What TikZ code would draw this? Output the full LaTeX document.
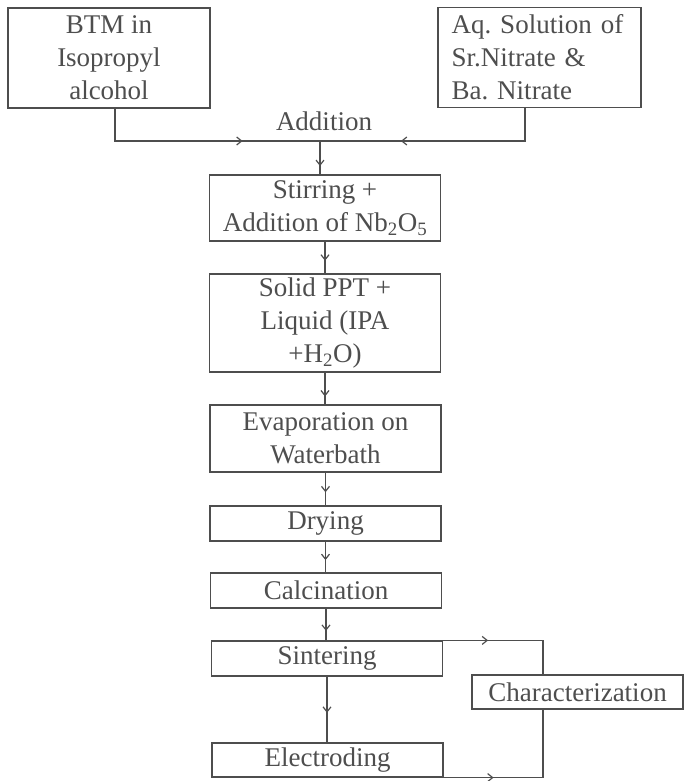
\documentclass[tikz,border=0pt]{standalone}
\usepackage{fontspec}
\setmainfont{Liberation Serif}
\usetikzlibrary{arrows.meta,decorations.markings}
\definecolor{ink}{RGB}{78,78,78}
\frenchspacing
\begin{document}
\begin{tikzpicture}[x=1pt,y=-1pt,
  every node/.style={font=\fontsize{27}{33}\selectfont, text=ink},
  box/.style={draw=ink, line width=1.2pt, inner sep=0pt, minimum width=231pt, align=center},
  conn/.style={draw=ink, line width=1.2pt},
  midtip/.style={postaction={decorate}, decoration={markings,
      mark=at position #1 with {\arrow{Straight Barb[length=5pt,width=8pt,line width=1.2pt]}}}},
]
\useasboundingbox[fill=white] (0,0) rectangle (685,781);

% starting materials
\node[box, minimum width=202pt, minimum height=100pt] (btm) at (109,58) {BTM in\\Isopropyl\\alcohol};
\node[box, minimum width=0pt, text width=180pt, inner xsep=11.5pt, align=left, minimum height=100pt]
  (aq) at (539.5,57.5) {\hspace*{2pt}Aq. Solution of\\\hspace*{2pt}Sr.Nitrate \&\\\hspace*{2pt}Ba. Nitrate};

% mixing junction
\node[anchor=base, inner sep=0pt] (add) at (324,131) {Addition};
\coordinate (jn) at (320,141);
\draw[conn, midtip=160pt] ([xshift=6pt]btm.south) |- (jn);
\draw[conn, midtip=157pt] ([xshift=-14.5pt]aq.south) |- (jn);

% main process column
\node[box, minimum height=66pt] (stir) at (325,208) {Stirring +\\Addition of Nb\textsubscript{2}O\textsubscript{5}};
\node[box, minimum height=98pt] (ppt) at (325,323) {Solid PPT +\\Liquid (IPA\\+H\textsubscript{2}O)};
\node[box, minimum height=67pt] (evap) at (325.5,438.5) {Evaporation on\\Waterbath};
\node[box, minimum height=35pt] (dry) at (325.5,523.5) {Drying};
\node[box, minimum height=35pt] (calc) at (326,590.5) {Calcination};
\node[box, minimum height=35pt] (sint) at (327,658.5) {Sintering};
\node[box, minimum height=34pt] (elec) at (327.5,760) {Electroding};
\node[box, minimum width=211pt, minimum height=34pt] (char) at (577.5,692) {Characterization};

\draw[conn, midtip=0.75] (jn) -- (jn |- stir.north);
\draw[conn, midtip=0.6] (stir.south) -- (stir.south |- ppt.north);
\draw[conn, midtip=0.75] (ppt.south) -- (ppt.south |- evap.north);
\draw[conn, midtip=0.6] (evap.south) -- (evap.south |- dry.north);
\draw[conn, midtip=0.6] (dry.south) -- (dry.south |- calc.north);
\draw[conn, midtip=0.7] (calc.south) -- (calc.south |- sint.north);
\draw[conn, midtip=0.55] (sint.south) -- (sint.south |- elec.north);

% branches to characterization
\coordinate (rt) at (543,0);
\draw[conn, midtip=45pt] (sint.north east) -| (rt |- char.north);
\draw[conn, midtip=50pt] (elec.south east) -| (rt |- char.south);
\end{tikzpicture}
\end{document}
